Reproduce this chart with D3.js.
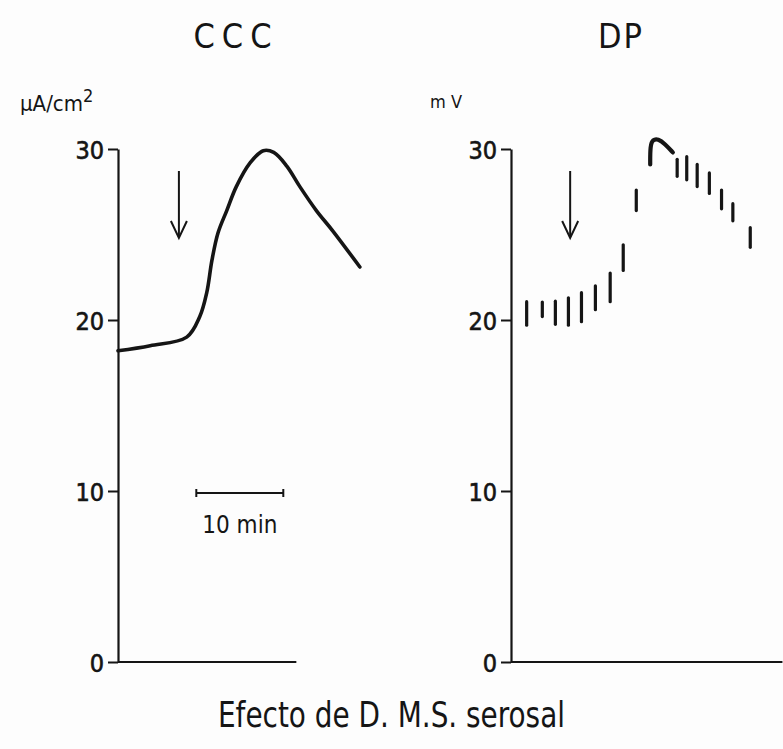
<!DOCTYPE html>
<html><head><meta charset="utf-8">
<script src="https://cdn.jsdelivr.net/npm/d3@7"></script>
<style>
html,body{margin:0;padding:0;background:#fdfdfd;}
svg{display:block;}
text{font-family:"DejaVu Sans Condensed","DejaVu Sans",sans-serif;fill:#151515;}
</style></head>
<body>
<svg id="chart" width="783" height="749"></svg>
<script>
// ---- data ----
const panelTitles = ["CCC", "DP"];
const unitLabels = ["µA/cm", "m V"];
const yTicks = [0, 10, 20, 30];
const caption = "Efecto de D. M.S. serosal";

// CCC curve: time (min) and current (µA/cm²)
const cccTime = [0, 3.7, 7.9, 9.4, 10.2, 10.8, 11.5, 12.5, 13.6, 15.2, 16.7, 17.9, 19.4, 20.9, 22.8, 24.7, 27.8];
const cccValue = [18.2, 18.5, 19.0, 20.2, 21.6, 23.5, 25.1, 26.4, 27.8, 29.2, 29.9, 29.8, 29.0, 27.8, 26.4, 25.2, 23.1];

// DP deflections: time (min), low and high values (mV)
const dpTime = [1.8, 3.6, 5.1, 6.6, 8.1, 9.7, 11.4, 12.9, 14.4, 19.1, 20.2, 21.4, 22.8, 24.2, 25.5, 27.5];
const dpLow  = [19.7, 20.2, 19.75, 19.7, 19.9, 20.6, 21.07, 22.9, 26.4, 28.4, 28.2, 27.8, 27.4, 26.5, 25.8, 24.25];
const dpHigh = [21.07, 21.05, 21.1, 21.3, 21.6, 22.0, 22.75, 24.4, 27.6, 29.4, 29.55, 29.1, 28.6, 27.6, 26.8, 25.4];
// DP peak trace (continuous portion)
const dpPeakTime = [16.0, 16.0, 16.3, 16.9, 17.7, 18.6];
const dpPeakValue = [29.1, 30.2, 30.55, 30.6, 30.3, 29.8];

// addition time (arrow) in each panel, min
const arrowTime = [7.0, 6.8];
const scaleBarMin = [9.0, 19.0];   // "10 min" bar in CCC panel
const scaleBarLabel = "10 min";
const baselineEnd = [20.5, 31.2];   // x-axis length (min)

// ---- layout ----
const svg = d3.select("#chart");
const pxPerMin = 8.7;
const yTop = 149, yBottom = 662;
const panels = [
  {x0: 118, titleX: 236},
  {x0: 511, titleX: 621}
];
const y = d3.scaleLinear().domain([0, 30]).range([yBottom, yTop]);
const xs = panels.map(p => d3.scaleLinear().domain([0, 30]).range([p.x0, p.x0 + 30 * pxPerMin]));

panels.forEach((p, i) => {
  const x = xs[i];
  svg.append("text").attr("x", p.titleX).attr("y", 48)
    .attr("text-anchor", "middle").attr("font-size", 34)
    .attr("letter-spacing", i === 0 ? 7 : 2)
    .text(panelTitles[i]);
  const ax = svg.append("g").attr("transform", `translate(${p.x0},0)`)
    .call(d3.axisLeft(y).tickValues(yTicks).tickSize(10).tickSizeOuter(0).tickPadding(4).tickFormat(d3.format("d")));
  ax.select(".domain").attr("stroke", "#151515").attr("stroke-width", 2.2);
  ax.selectAll(".tick line").attr("stroke", "#151515").attr("stroke-width", 2);
  ax.selectAll(".tick text").attr("font-size", 25).style("fill", "#151515")
    .attr("font-family", '"DejaVu Sans Condensed","DejaVu Sans",sans-serif')
    .attr("stroke", "#151515").attr("stroke-width", 0.6).attr("dy", "0.36em");
  svg.append("line").attr("x1", x(0)).attr("x2", x(baselineEnd[i]))
    .attr("y1", y(0)).attr("y2", y(0)).attr("stroke", "#151515").attr("stroke-width", 2.2);
  const ax0 = x(arrowTime[i]);
  svg.append("line").attr("x1", ax0).attr("x2", ax0).attr("y1", 171).attr("y2", 237)
    .attr("stroke", "#151515").attr("stroke-width", 2);
  svg.append("path").attr("d", `M${ax0 - 8},${221} L${ax0},${238} L${ax0 + 8},${221}`)
    .attr("fill", "none").attr("stroke", "#151515").attr("stroke-width", 2);
});

// unit labels
const u1 = svg.append("text").attr("x", 20).attr("y", 111).attr("font-size", 22);
u1.append("tspan").text(unitLabels[0]);
u1.append("tspan").attr("dy", -9).attr("font-size", 18).text("2");
svg.append("text").attr("x", 430).attr("y", 108).attr("font-size", 18).text(unitLabels[1]);

// CCC curve
const xL = xs[0];
svg.append("path")
  .datum(cccTime.map((t, k) => [t, cccValue[k]]))
  .attr("fill", "none").attr("stroke", "#151515").attr("stroke-width", 3.6)
  .attr("stroke-linecap", "round")
  .attr("d", d3.line().x(d => xL(d[0])).y(d => y(d[1])).curve(d3.curveCatmullRom.alpha(0.5)));

// scale bar
const sbY = 493;
svg.append("line").attr("x1", xL(scaleBarMin[0])).attr("x2", xL(scaleBarMin[1]))
  .attr("y1", sbY).attr("y2", sbY).attr("stroke", "#151515").attr("stroke-width", 2);
scaleBarMin.forEach(m => svg.append("line").attr("x1", xL(m)).attr("x2", xL(m))
  .attr("y1", sbY - 4).attr("y2", sbY + 4).attr("stroke", "#151515").attr("stroke-width", 2));
svg.append("text").attr("x", (xL(scaleBarMin[0]) + xL(scaleBarMin[1])) / 2).attr("y", 533)
  .attr("text-anchor", "middle").attr("font-size", 24).text(scaleBarLabel);

// DP dashes
const xR = xs[1];
svg.append("g").selectAll("line").data(dpTime).join("line")
  .attr("x1", (d) => xR(d)).attr("x2", (d) => xR(d))
  .attr("y1", (d, k) => y(dpLow[k])).attr("y2", (d, k) => y(dpHigh[k]))
  .attr("stroke", "#151515").attr("stroke-width", 3.2).attr("stroke-linecap", "round");
svg.append("path")
  .datum(dpPeakTime.map((t, k) => [t, dpPeakValue[k]]))
  .attr("fill", "none").attr("stroke", "#151515").attr("stroke-width", 4.2)
  .attr("stroke-linecap", "round")
  .attr("d", d3.line().x(d => xR(d[0])).y(d => y(d[1])).curve(d3.curveBasis));

// caption
svg.append("text").attr("x", 218).attr("y", 727)
  .attr("font-size", 36).attr("textLength", 347).attr("lengthAdjust", "spacingAndGlyphs")
  .text(caption);
</script>
</body></html>
